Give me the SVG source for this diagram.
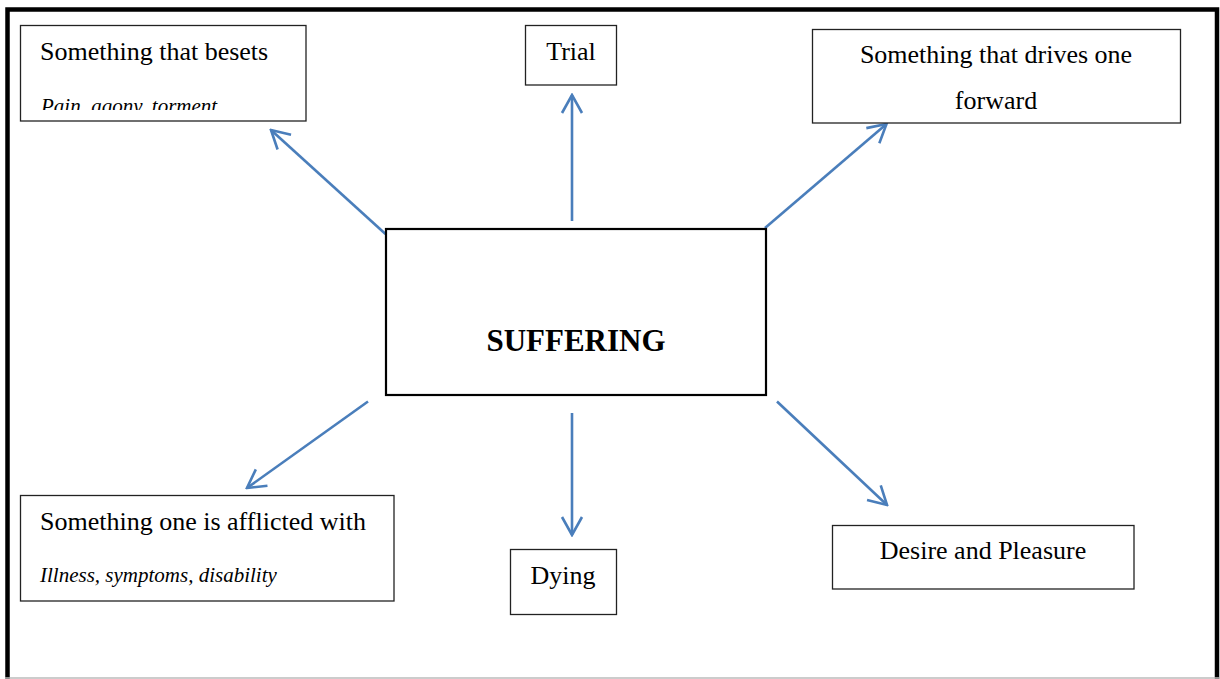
<svg xmlns="http://www.w3.org/2000/svg" width="1220" height="679" viewBox="0 0 1220 679">
<style>
.box{fill:#fff;stroke:#222;stroke-width:1.3}
.main{fill:#fff;stroke:#000;stroke-width:2.2}
.t{font-family:"Liberation Serif","Times New Roman",serif;font-size:26px;fill:#000}
.i{font-family:"Liberation Serif","Times New Roman",serif;font-size:21px;font-style:italic;fill:#000}
.b{font-family:"Liberation Serif","Times New Roman",serif;font-size:31px;font-weight:bold;fill:#000}
.c{text-anchor:middle}
.arr{stroke:#4a7ebb;stroke-width:2.6;fill:none;marker-end:url(#ah)}
</style>
<defs>
<marker id="ah" markerUnits="userSpaceOnUse" viewBox="-20 -12 22 24" refX="0" refY="0" markerWidth="22" markerHeight="24" orient="auto">
<path d="M-18,-10 L0,0 L-18,10" fill="none" stroke="#4a7ebb" stroke-width="2.6"/>
</marker>
<clipPath id="clipTL"><rect x="20" y="25" width="286" height="85"/></clipPath>
</defs>
<rect x="0" y="0" width="1220" height="679" fill="#fff"/>
<g id="frame">
<path d="M7.5,679 L7.5,9.5 L1217,9.5 L1217,679" fill="none" stroke="#000" stroke-width="4.5"/>
<line x1="5" y1="678" x2="1220" y2="678" stroke="#bbb" stroke-width="1.5"/>
</g>
<g id="connectors">
<line class="arr" x1="385.5" y1="234" x2="271" y2="130"/>
<line class="arr" x1="572" y1="221" x2="572" y2="95"/>
<line class="arr" x1="765" y1="228" x2="886.5" y2="124"/>
<line class="arr" x1="368" y1="401.5" x2="247" y2="488"/>
<line class="arr" x1="572" y1="413" x2="572" y2="535"/>
<line class="arr" x1="777" y1="401.5" x2="887" y2="505"/>
</g>
<g id="node-besets">
<rect class="box" x="20.5" y="25.5" width="285.5" height="95.5"/>
<text class="t" x="40" y="60">Something that besets</text>
<g clip-path="url(#clipTL)"><text class="i" x="41" y="113">Pain, agony, torment</text></g>
</g>
<g id="node-trial">
<rect class="box" x="525.5" y="25.5" width="91" height="59.5"/>
<text class="t c" x="571" y="60">Trial</text>
</g>
<g id="node-drives">
<rect class="box" x="812.5" y="29.5" width="368" height="93.5"/>
<text class="t c" x="996" y="63">Something that drives one</text>
<text class="t c" x="996" y="109">forward</text>
</g>
<g id="node-suffering">
<rect class="main" x="386" y="229" width="380" height="166"/>
<text class="b c" x="576" y="351">SUFFERING</text>
</g>
<g id="node-afflicted">
<rect class="box" x="20.5" y="495.5" width="373.5" height="105.5"/>
<text class="t" x="40" y="530">Something one is afflicted with</text>
<text class="i" x="40" y="582">Illness, symptoms, disability</text>
</g>
<g id="node-dying">
<rect class="box" x="510.5" y="549.5" width="106" height="65"/>
<text class="t c" x="563" y="584">Dying</text>
</g>
<g id="node-desire">
<rect class="box" x="832.5" y="525.5" width="301.5" height="63.5"/>
<text class="t c" x="983" y="559">Desire and Pleasure</text>
</g>
</svg>
